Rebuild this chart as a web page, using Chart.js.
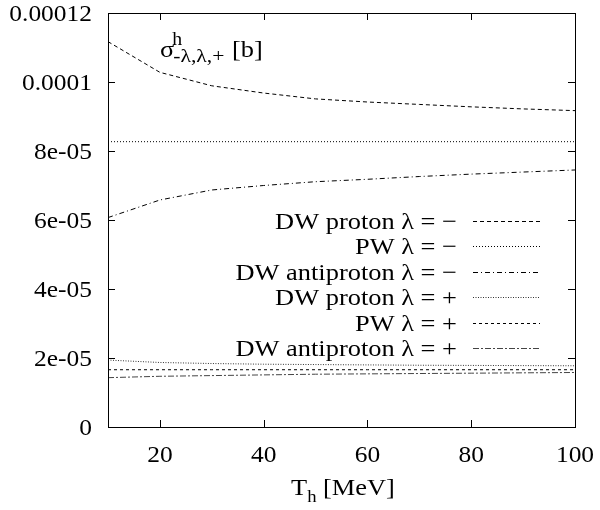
<!DOCTYPE html>
<html>
<head>
<meta charset="utf-8">
<script src="https://cdn.jsdelivr.net/npm/chart.js@4"></script>
<style>
  body { margin: 0; background: #fff; font-family: 'Liberation Serif', serif; }
  canvas { display: block; }
  #precarga { position: absolute; left: -1000px; top: 0; font: 24px 'Liberation Serif'; }
</style>
</head>
<body>
<span id="precarga">0.0001 λ −</span>
<canvas id="grafico" width="600" height="510"></canvas>
<script>
// energías T_h [MeV]
const energias = [10, 20, 30, 40, 50, 60, 70, 80, 90, 100];

// sección eficaz [b], lambda = -
const dwProtonMenos = [1.117e-4, 1.028e-4, 0.989e-4, 0.968e-4, 0.951e-4, 0.942e-4, 0.935e-4, 0.928e-4, 0.922e-4, 0.917e-4];
const pwMenos = [8.27e-5, 8.27e-5, 8.27e-5, 8.27e-5, 8.27e-5, 8.27e-5, 8.27e-5, 8.27e-5, 8.27e-5, 8.27e-5];
const dwAntiprotonMenos = [0.607e-4, 0.658e-4, 0.687e-4, 0.700e-4, 0.711e-4, 0.718e-4, 0.726e-4, 0.733e-4, 0.739e-4, 0.745e-4];

// sección eficaz [b], lambda = +
const dwProtonMas = [1.94e-5, 1.87e-5, 1.84e-5, 1.82e-5, 1.81e-5, 1.80e-5, 1.79e-5, 1.785e-5, 1.78e-5, 1.775e-5];
const pwMas = [1.66e-5, 1.66e-5, 1.66e-5, 1.66e-5, 1.66e-5, 1.66e-5, 1.66e-5, 1.66e-5, 1.66e-5, 1.66e-5];
const dwAntiprotonMas = [1.43e-5, 1.47e-5, 1.49e-5, 1.51e-5, 1.53e-5, 1.54e-5, 1.55e-5, 1.56e-5, 1.57e-5, 1.58e-5];

const etiquetas = ['DW proton λ = −', 'PW λ = −', 'DW antiproton λ = −',
                   'DW proton λ = +', 'PW λ = +', 'DW antiproton λ = +'];

const ticksX = [20, 40, 60, 80, 100];
const ticksY = [0, 2e-5, 4e-5, 6e-5, 8e-5, 1e-4, 1.2e-4];
const etiquetasY = ['0', '2e-05', '4e-05', '6e-05', '8e-05', '0.0001', '0.00012'];

const FUENTE = "'Liberation Serif', 'Times New Roman', serif";

const serie = (label, valores, dash, color) => ({
    label,
    data: energias.map((x, i) => ({ x, y: valores[i] })),
    borderColor: color,
    borderWidth: 1,
    borderDash: dash,
    pointRadius: 0,
    fill: false,
    tension: 0
});

// escribe texto algo ensanchado (como sale en gnuplot) y devuelve su ancho
const texto = (ctx, str, x, y, tam, alinear = 'left', estirado = 1.1) => {
    ctx.save();
    ctx.font = `${tam}px ${FUENTE}`;
    ctx.textAlign = alinear;
    ctx.textBaseline = 'alphabetic';
    ctx.fillStyle = '#000';
    ctx.translate(x, y);
    ctx.scale(estirado, 1);
    ctx.fillText(str, 0, 0);
    const w = ctx.measureText(str).width * estirado;
    ctx.restore();
    return w;
};

// marco tipo gnuplot con marcas hacia dentro en los cuatro lados y sus etiquetas
const marco = {
    id: 'marco',
    afterDatasetsDraw(chart) {
        const { ctx, chartArea: a, scales } = chart;
        const largo = 7;
        ctx.save();
        ctx.strokeStyle = '#000';
        ctx.lineWidth = 1;
        ctx.strokeRect(a.left + 0.5, a.top + 0.5, a.right - a.left, a.bottom - a.top);
        ctx.beginPath();
        ticksX.forEach(v => {
            const px = Math.round(scales.x.getPixelForValue(v)) + 0.5;
            ctx.moveTo(px, a.bottom); ctx.lineTo(px, a.bottom - largo);
            ctx.moveTo(px, a.top); ctx.lineTo(px, a.top + largo);
        });
        ticksY.forEach(v => {
            const py = Math.round(scales.y.getPixelForValue(v)) + 0.5;
            ctx.moveTo(a.left, py); ctx.lineTo(a.left + largo, py);
            ctx.moveTo(a.right, py); ctx.lineTo(a.right - largo, py);
        });
        ctx.stroke();
        ctx.restore();

        ticksX.forEach(v => texto(ctx, String(v), scales.x.getPixelForValue(v), a.bottom + 35, 24, 'center', 1.06));
        ticksY.forEach((v, i) => texto(ctx, etiquetasY[i], a.left - 16, scales.y.getPixelForValue(v) + 8, 24, 'right', 1.06));
    }
};

// leyenda: texto alineado a la derecha y muestra de línea a su lado
const leyenda = {
    id: 'leyenda',
    afterDatasetsDraw(chart) {
        const { ctx } = chart;
        const xTexto = 457, x0 = 473, x1 = 540, yInicio = 221, paso = 25.4;
        chart.data.datasets.forEach((ds, i) => {
            const y = yInicio + i * paso;
            texto(ctx, ds.label, xTexto, y + 8, 24, 'right');
            ctx.save();
            ctx.strokeStyle = ds.borderColor;
            ctx.lineWidth = 1;
            ctx.setLineDash(ds.borderDash);
            ctx.beginPath();
            ctx.moveTo(x0, Math.round(y) + 0.5);
            ctx.lineTo(x1, Math.round(y) + 0.5);
            ctx.stroke();
            ctx.restore();
        });
    }
};

// rótulo de la magnitud y título del eje x con sub/superíndices
const rotulos = {
    id: 'rotulos',
    afterDraw(chart) {
        const { ctx } = chart;
        let x = 160;
        x += texto(ctx, 'σ', x, 57, 24);
        texto(ctx, 'h', x - 2, 45, 18);
        texto(ctx, '-λ,λ,+', x - 1, 62, 18, 'left', 1.2);
        texto(ctx, '[b]', 232, 57, 24);

        x = 291;
        x += texto(ctx, 'T', x, 495, 24);
        x += texto(ctx, 'h', x, 502, 17);
        texto(ctx, ' [MeV]', x, 495, 24);
    }
};

const dibujar = () => new Chart(document.getElementById('grafico').getContext('2d'), {
    type: 'line',
    data: {
        datasets: [
            serie(etiquetas[0], dwProtonMenos, [4, 3], '#000'),
            serie(etiquetas[1], pwMenos, [1, 2], '#000'),
            serie(etiquetas[2], dwAntiprotonMenos, [5, 3, 1, 3], '#000'),
            serie(etiquetas[3], dwProtonMas, [1, 1.5], '#333'),
            serie(etiquetas[4], pwMas, [3, 3], '#000'),
            serie(etiquetas[5], dwAntiprotonMas, [6, 2, 2, 2], '#444')
        ]
    },
    options: {
        responsive: false,
        animation: false,
        layout: { padding: { top: 13, right: 25, left: 0, bottom: 0 } },
        plugins: { legend: { display: false }, tooltip: { enabled: false } },
        scales: {
            x: {
                type: 'linear',
                min: 10,
                max: 100,
                grid: { display: false },
                border: { display: false },
                ticks: { display: false },
                afterBuildTicks: (s) => { s.ticks = ticksX.map(value => ({ value })); },
                afterFit: (s) => { s.height = 83; s.paddingLeft = 0; s.paddingRight = 0; }
            },
            y: {
                type: 'linear',
                min: 0,
                max: 1.2e-4,
                grid: { display: false },
                border: { display: false },
                ticks: { display: false },
                afterBuildTicks: (s) => { s.ticks = ticksY.map(value => ({ value })); },
                afterFit: (s) => { s.width = 108; s.paddingTop = 0; s.paddingBottom = 0; }
            }
        }
    },
    plugins: [marco, leyenda, rotulos]
});

document.fonts.load("24px 'Liberation Serif'").then(dibujar, dibujar);
</script>
</body>
</html>
